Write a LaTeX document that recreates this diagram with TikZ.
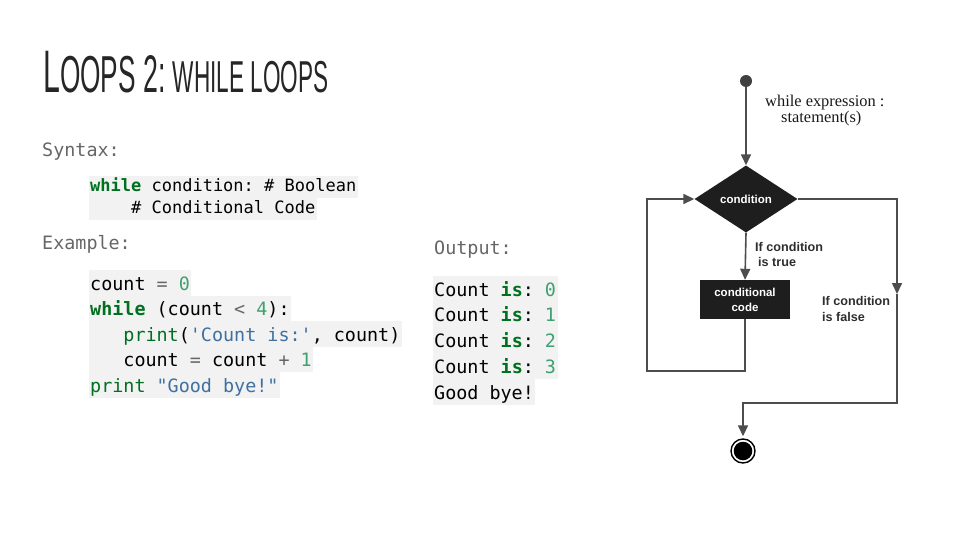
\documentclass[tikz,border=0pt]{standalone}
\usepackage{fontspec}
\usepackage{graphicx}
\setmainfont{Liberation Sans}
\newfontfamily\codefont[Ligatures=TeXOff]{DejaVu Sans Mono}
\newfontfamily\titlefont{Liberation Sans}
\newfontfamily\exprfont{Liberation Serif}
\usetikzlibrary{arrows.meta,shapes.geometric}

\definecolor{titlecol}{HTML}{262626}
\definecolor{labelgray}{HTML}{666666}
\definecolor{codebg}{HTML}{F2F2F2}
\definecolor{kw}{HTML}{007020}
\definecolor{num}{HTML}{40A070}
\definecolor{str}{HTML}{4070A0}
\definecolor{op}{HTML}{666666}
\definecolor{fcdark}{HTML}{1E1E1E}
\definecolor{fcline}{HTML}{4D4D4D}
\definecolor{fctext}{HTML}{2E2E2E}

% code highlighting helpers
\newcommand{\kwd}[1]{\textcolor{kw}{\bfseries #1}}
\newcommand{\bltin}[1]{\textcolor{kw}{#1}}
\newcommand{\numl}[1]{\textcolor{num}{#1}}
\newcommand{\strl}[1]{\textcolor{str}{#1}}
\newcommand{\opr}[1]{\textcolor{op}{#1}}
\newcommand{\codeindent}[1]{\phantom{#1}}

\begin{document}
\frenchspacing
\begin{tikzpicture}[x=1pt,y=-1pt,
  synline/.style={anchor=base west, fill=codebg, inner xsep=1.5pt, inner ysep=0pt,
    text height=15pt, text depth=7pt, font=\codefont\fontsize{17}{17}\selectfont},
  exline/.style={anchor=base west, fill=codebg, inner xsep=1.5pt, inner ysep=0pt,
    text height=20pt, text depth=5.5pt, font=\codefont\fontsize{18.4}{18.4}\selectfont},
  outline/.style={exline, text depth=5.75pt},
  heading/.style={anchor=base west, inner sep=0pt, text=labelgray,
    font=\codefont\fontsize{18.4}{18.4}\selectfont},
  fcshape/.style={fill=fcdark, text=white, inner sep=0pt,
    font=\bfseries\fontsize{11.5}{15}\selectfont},
  fclabel/.style={anchor=west, inner sep=0pt, align=left, text=fctext,
    font=\bfseries\fontsize{12.6}{15.5}\selectfont},
  exprtext/.style={anchor=base west, inner sep=0pt, text=black!90,
    font=\exprfont\fontsize{16.4}{16.4}\selectfont},
  flow/.style={draw=fcline, line width=1.6pt},
  flowarrow/.style={flow, -{Triangle[length=11pt,width=10pt]}},
]
\useasboundingbox (0,0) rectangle (960,540);

% heading
\node[anchor=base west, inner sep=0pt, text=titlecol] (title) at (43,93)
  {\scalebox{0.505}[1]{\titlefont
   \fontsize{60}{60}\selectfont L\fontsize{52}{52}\selectfont OOPS
   \fontsize{53}{53}\selectfont 2:
   \fontsize{44.7}{45}\selectfont WHILE LOOPS}};

% syntax block
\node[heading] (syntaxhd) at (42,157) {Syntax:};
\node[synline] (syn1) at (88.5,191) {\kwd{while} condition: \# Boolean};
\node[synline] (syn2) at (88.5,213) {\codeindent{xxxx}\# Conditional Code};

% example block
\node[heading] (examplehd) at (42,249.5) {Example:};
\node[exline] (ex1) at (88.5,290)   {count \opr{=} \numl{0}};
\node[exline] (ex2) at (88.5,315.5) {\kwd{while} (count \opr{<} \numl{4}):};
\node[exline] (ex3) at (88.5,341)   {\codeindent{xxx}\bltin{print}(\strl{'Count is:'}, count)};
\node[exline] (ex4) at (88.5,366.5) {\codeindent{xxx}count \opr{=} count \opr{+} \numl{1}};
\node[exline] (ex5) at (88.5,392)   {\bltin{print} \strl{"Good bye!"}};

% output block
\node[heading] (outputhd) at (434,254.5) {Output:};
\node[outline] (out1) at (432.5,296)    {Count \kwd{is}: \numl{0}};
\node[outline] (out2) at (432.5,321.75) {Count \kwd{is}: \numl{1}};
\node[outline] (out3) at (432.5,347.5)  {Count \kwd{is}: \numl{2}};
\node[outline] (out4) at (432.5,373.25) {Count \kwd{is}: \numl{3}};
\node[outline] (out5) at (432.5,399)    {Good bye!};

% flowchart of the while statement
\node[circle, fill=fcdark!85!white, minimum size=12pt, inner sep=0pt] (start) at (746,81) {};
\node[exprtext] (expr1) at (765,107) {while expression :};
\node[exprtext] (expr2) at (781,122.5) {statement(s)};

\node[fcshape, diamond, minimum width=103pt, minimum height=67pt] (cond) at (746,199) {condition};
\node[fcshape, rectangle, minimum width=90pt, minimum height=39pt, align=center] (body) at (745,299.5) {conditional\\code};

\node[fclabel] (truelbl) at (755,254.5) {If condition\\\hspace{3pt}is true};
\node[fclabel] (falselbl) at (822,309) {If condition\\is false};

\node[circle, draw=black, line width=1.4pt, minimum size=24pt, inner sep=0pt] (stop) at (743,451) {};
\fill[black] (stop.center) circle (9.3pt);

\coordinate (rtop) at (897,199);
\coordinate (rmid) at (897,294);
\coordinate (rbot) at (897,403);
\coordinate (lbot) at (647,371);
\coordinate (ltop) at (647,199);

\draw[flowarrow] (start) -- (cond.north);
\draw[flowarrow] (cond.south) -- (body.north);
\draw[flowarrow] (body.south) |- (lbot) -- (ltop) -- (cond.west);
\draw[flowarrow] (cond.east) -- (rtop) -- (rmid);
\draw[flowarrow, shorten >=2pt] (rmid) -- (rbot) -| (stop.north);
\end{tikzpicture}
\end{document}
